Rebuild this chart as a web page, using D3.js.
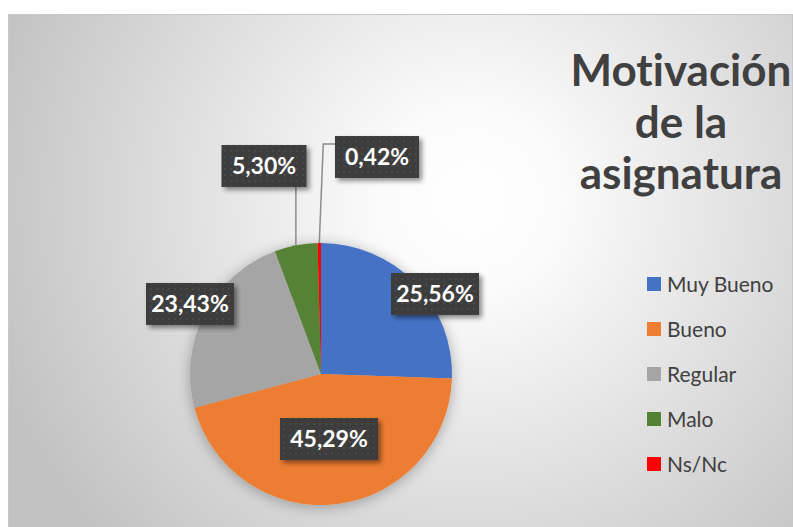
<!DOCTYPE html>
<html><head><meta charset="utf-8">
<script src="https://cdn.jsdelivr.net/npm/d3@7/dist/d3.min.js"></script>
<style>html,body{margin:0;padding:0;background:#fff;}svg{display:block;}text{font-variant-ligatures:none;font-feature-settings:"liga" 0;}</style>
</head><body>
<script>
const categories = ["Muy Bueno","Bueno","Regular","Malo","Ns/Nc"];
const values = [25.56, 45.29, 23.43, 5.30, 0.42];
const labels = ["25,56%","45,29%","23,43%","5,30%","0,42%"];
const titleLines = ["Motivación","de la","asignatura"];
const colors = ["#4472C4","#ED7D31","#A5A5A5","#548235","#FF0000"];

// layout (label box centres relative to pie centre)
const labelOffsets = [[114,-80],[8,65],[-131,-70],[-57,-208],[56,-217]];

const W = 793, H = 527;
const svg = d3.select("body").append("svg").attr("width", W).attr("height", H);
const defs = svg.append("defs");
const grad = defs.append("radialGradient").attr("id","bg")
  .attr("gradientUnits","userSpaceOnUse").attr("cx",470).attr("cy",200).attr("r",500);
grad.append("stop").attr("offset","0").attr("stop-color","#ffffff");
grad.append("stop").attr("offset","0.18").attr("stop-color","#fbfbfb");
grad.append("stop").attr("offset","1").attr("stop-color","#c2c2c2");

const pat = defs.append("pattern").attr("id","dots").attr("patternUnits","userSpaceOnUse")
  .attr("width",6).attr("height",6);
pat.append("rect").attr("width",6).attr("height",6).attr("fill","#3d3d3d");
pat.append("circle").attr("cx",3).attr("cy",3).attr("r",0.8).attr("fill","#555");

const sh = defs.append("filter").attr("id","shadow").attr("x","-20%").attr("y","-20%").attr("width","150%").attr("height","160%");
sh.append("feGaussianBlur").attr("in","SourceAlpha").attr("stdDeviation",2.5);
sh.append("feOffset").attr("dx",3).attr("dy",3).attr("result","b");
sh.append("feComponentTransfer").append("feFuncA").attr("type","linear").attr("slope",0.45);
const m = sh.append("feMerge"); m.append("feMergeNode"); m.append("feMergeNode").attr("in","SourceGraphic");

const psh = defs.append("filter").attr("id","pshadow").attr("x","-20%").attr("y","-20%").attr("width","140%").attr("height","140%");
psh.append("feGaussianBlur").attr("in","SourceAlpha").attr("stdDeviation",7);
psh.append("feOffset").attr("dx",0).attr("dy",2);
psh.append("feComponentTransfer").append("feFuncA").attr("type","linear").attr("slope",0.3);
const m2 = psh.append("feMerge"); m2.append("feMergeNode"); m2.append("feMergeNode").attr("in","SourceGraphic");

svg.append("rect").attr("x",8.5).attr("y",14.5).attr("width",W-9).attr("height",H-14)
  .attr("fill","url(#bg)").attr("stroke","#c8c8c8").attr("stroke-width",1);

const cx = 321, cy = 374, R = 131;
const pie = d3.pie().sort(null).value(d => d)(values);
const arc = d3.arc().innerRadius(0).outerRadius(R);
const g = svg.append("g").attr("transform",`translate(${cx},${cy})`);
g.append("g").attr("filter","url(#pshadow)").selectAll("path").data(pie).join("path")
  .attr("d",arc).attr("fill",(d,i)=>colors[i]);

// leader lines for small slices
const edge = d => { const a=(d.startAngle+d.endAngle)/2; return [R*Math.sin(a), -R*Math.cos(a)]; };
const boxW = [88,98,88,85,84], boxH = 42;
const lines = g.append("g").attr("fill","none").attr("stroke","#8c8c8c").attr("stroke-width",1.5);
{
  const p = edge(pie[3]); const o = labelOffsets[3];
  lines.append("path").attr("d", d3.line()([p,[p[0], o[1]+boxH/2]]));
  const q = edge(pie[4]); const o2 = labelOffsets[4];
  const ly = o2[1]-13, lx = o2[0]-boxW[4]/2;
  lines.append("path").attr("d", d3.line()([q,[q[0]+4, ly],[lx, ly]]));
}

const lab = g.append("g").selectAll("g").data(pie).join("g")
  .attr("transform",(d,i)=>`translate(${labelOffsets[i][0]},${labelOffsets[i][1]})`);
lab.append("rect").attr("x",(d,i)=>-boxW[i]/2).attr("y",-boxH/2).attr("width",(d,i)=>boxW[i]).attr("height",boxH)
  .attr("fill","url(#dots)").attr("filter","url(#shadow)");
lab.append("text").attr("text-anchor","middle").attr("dy","0.36em")
  .attr("font-family","Lato, 'Open Sans', sans-serif").attr("font-weight","bold").attr("font-size",23)
  .attr("fill","#fff").text((d,i)=>labels[i]);

// title
svg.append("text").attr("text-anchor","middle").attr("font-family","Lato, 'Open Sans', sans-serif")
  .attr("font-weight","bold").attr("font-size",44).attr("fill","#404040")
  .selectAll("tspan").data(titleLines).join("tspan")
  .attr("x",681).attr("y",(d,i)=>86+i*51.5).text(d=>d);

// legend
const y = d3.scalePoint().domain(categories).range([284,464]);
const leg = svg.append("g").selectAll("g").data(categories).join("g")
  .attr("transform",d=>`translate(647,${y(d)})`);
leg.append("rect").attr("x",0).attr("y",-7).attr("width",14).attr("height",14).attr("fill",(d,i)=>colors[i]);
leg.append("text").attr("x",20).attr("dy","0.36em").attr("font-family","Lato, 'Open Sans', sans-serif")
  .attr("font-size",21).attr("fill","#404040").text(d=>d);
</script>
</body></html>
